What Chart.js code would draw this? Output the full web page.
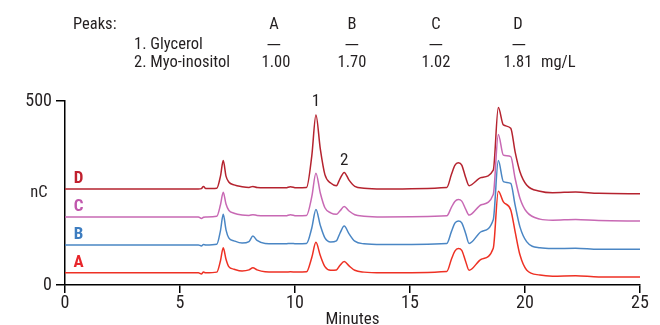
<!DOCTYPE html>
<html>
<head>
<meta charset="utf-8">
<script src="https://cdn.jsdelivr.net/npm/chart.js@4.4.0/dist/chart.umd.min.js"></script>
<style>
  html, body { margin: 0; padding: 0; background: #fff; }
  #wrap { position: relative; width: 660px; height: 325px; }
  #wrap canvas { position: absolute; left: 0; top: 0; }
  .hd {
    position: absolute;
    font-family: "Liberation Sans Narrow", "Roboto Condensed", "DejaVu Sans Condensed", Roboto, sans-serif;
    font-size: 16.5px;
    line-height: 1;
    color: #231f20;
    white-space: nowrap;
  }
  .col { width: 60px; text-align: center; }
  .dash { display: inline-block; transform: scaleX(1.4); }
</style>
</head>
<body>
<div id="wrap">
  <canvas id="chromChart" width="660" height="325"></canvas>
  <div id="header"></div>
</div>
<script>
// header table
const sampleNames = ['A', 'B', 'C', 'D'];
const analytes = ['1. Glycerol', '2. Myo-inositol'];
const glycerolConc = ['—', '—', '—', '—'];
const inositolConc = ['1.00', '1.70', '1.02', '1.81'];
const concUnit = 'mg/L';

// chromatograms (retention time in minutes, response in nC)
const minutes = [
  0, 5.8, 5.93, 6.02, 6.12, 6.6, 6.76, 6.88, 7.0, 7.12,
  7.35, 7.7, 8.0, 8.17, 8.35, 8.7, 9.6, 9.8, 10.05, 10.5,
  10.73, 10.91, 11.1, 11.3, 11.55, 11.8, 11.95, 12.14, 12.35, 12.6,
  13.0, 13.8, 16.6, 16.8, 16.95, 17.1, 17.25, 17.42, 17.57, 18.1,
  18.62, 18.84, 19.06, 19.38, 19.57, 19.78, 20.07, 20.65, 21.2, 22.2,
  23.2, 25
];
const traceA = [
  33, 33, 30, 35, 33, 35, 66, 101, 70, 50,
  43, 38, 41, 47, 41, 36, 35, 36, 35, 36,
  75, 116, 80, 50, 40, 41, 53, 64, 52, 40,
  35, 33, 37, 70, 92, 99, 94, 64, 40, 70,
  100, 255, 226, 204, 145, 82, 41, 27, 24, 25,
  22, 22
];
const traceB = [
  109, 109, 106, 110, 109, 111, 148, 192, 150, 128,
  120, 114, 118, 133, 121, 113, 112, 113, 112, 113,
  155, 205, 162, 128, 117, 120, 140, 160, 139, 119,
  112, 110, 113, 145, 168, 174, 169, 140, 113, 145,
  177, 338, 281, 276, 217, 158, 118, 101, 99, 100,
  97, 97
];
const traceC = [
  185, 185, 181, 184, 185, 187, 218, 252, 220, 203,
  195, 190, 189, 191, 189, 188, 188, 191, 188, 189,
  240, 304, 250, 210, 196, 192, 201, 213, 201, 191,
  187, 185, 188, 211, 227, 232, 228, 206, 190, 218,
  246, 409, 353, 349, 290, 236, 199, 179, 176, 178,
  175, 174
];
const traceD = [
  261, 261, 262, 268, 262, 263, 296, 338, 296, 280,
  272, 267, 265, 268, 265, 264, 264, 267, 264, 265,
  351, 462, 370, 300, 277, 270, 288, 306, 285, 268,
  263, 261, 265, 300, 325, 332, 326, 292, 270, 292,
  312, 482, 435, 426, 362, 308, 272, 255, 251, 253,
  249, 248
];
const traces = [traceA, traceB, traceC, traceD];

const peakLabels = ['1', '2'];
const peakTimes = [10.91, 12.14];

const xTicks = [0, 5, 10, 15, 20, 25];
const yTicks = [0, 500];

const FONT = '"Liberation Sans Narrow", "Roboto Condensed", "DejaVu Sans Condensed", Roboto, sans-serif';
const lineColors = ['#ee3124', '#4a86c4', '#c869b4', '#b5232f'];
const labelColors = ['#e8262b', '#3d7dc0', '#c057ac', '#c0202e'];
const textColor = '#231f20';

// header, built as html text
const header = document.getElementById('header');
function addText(txt, left, baseline, centred) {
  const el = document.createElement('div');
  el.className = 'hd' + (centred ? ' col' : '');
  el.textContent = txt;
  el.style.left = (centred ? left - 30 : left) + 'px';
  el.style.top = (baseline - 14) + 'px';
  header.appendChild(el);
  return el;
}
const colCentres = [274, 352, 436, 518];
addText('Peaks:', 73, 30);
addText(analytes[0], 134, 50);
addText(analytes[1], 134, 68);
sampleNames.forEach((s, i) => addText(s, colCentres[i], 30, true));
glycerolConc.forEach((s, i) => {
  const el = addText('', colCentres[i] + (i === 3 ? 1 : 0), 51.5, true);
  const sp = document.createElement('span');
  sp.className = 'dash';
  sp.textContent = s;
  el.appendChild(sp);
});
inositolConc.forEach((s, i) => addText(s, colCentres[i] + (i === 0 ? 2 : 0), 68, true));
addText(concUnit, 541, 68);

const annotations = {
  id: 'annotations',
  afterDatasetsDraw(chart) {
    const { ctx, scales: { x, y } } = chart;
    ctx.save();
    ctx.textAlign = 'center';
    ctx.textBaseline = 'middle';
    ctx.font = 'bold 17px ' + FONT;
    traces.forEach((tr, i) => {
      ctx.fillStyle = labelColors[i];
      ctx.fillText(sampleNames[i], x.getPixelForValue(0.59), y.getPixelForValue(tr[0]) - 10);
    });
    ctx.font = '17px ' + FONT;
    ctx.fillStyle = textColor;
    peakLabels.forEach((p, i) => {
      const idx = minutes.indexOf(peakTimes[i]);
      const gap = i === 0 ? 13 : 11.5;
      ctx.fillText(p, x.getPixelForValue(peakTimes[i]), y.getPixelForValue(traceD[idx]) - gap);
    });
    ctx.font = '16.5px ' + FONT;
    ctx.fillText('nC', x.left - 26, y.getPixelForValue(250));
    ctx.restore();
  }
};

const ctx = document.getElementById('chromChart').getContext('2d');
new Chart(ctx, {
  type: 'line',
  data: {
    datasets: traces.map((tr, i) => ({
      label: sampleNames[i],
      data: minutes.map((t, j) => ({ x: t, y: tr[j] })),
      borderColor: lineColors[i],
      borderWidth: 1.5,
      pointRadius: 0,
      fill: false,
      cubicInterpolationMode: 'monotone',
    })),
  },
  options: {
    responsive: false,
    animation: false,
    devicePixelRatio: 1,
    layout: { padding: { top: 101, right: 20, left: 0, bottom: 0 } },
    plugins: { legend: { display: false }, tooltip: { enabled: false } },
    scales: {
      x: {
        type: 'linear',
        min: 0,
        max: 25,
        afterBuildTicks: (scale) => { scale.ticks = xTicks.map(v => ({ value: v })); },
        afterFit: (scale) => { scale.height = 40; },
        ticks: { color: textColor, font: { family: FONT, size: 18 }, padding: 0, maxRotation: 0 },
        grid: { drawOnChartArea: false, tickLength: 8, color: '#000', lineWidth: 1.5 },
        border: { color: '#000', width: 1.5 },
        title: {
          display: true,
          text: 'Minutes',
          color: textColor,
          font: { family: FONT, size: 17, lineHeight: 1 },
          padding: { top: 0, bottom: -3 },
        },
      },
      y: {
        type: 'linear',
        min: 0,
        max: 500,
        afterBuildTicks: (scale) => { scale.ticks = yTicks.map(v => ({ value: v })); },
        afterFit: (scale) => { scale.width = 65; },
        ticks: { color: textColor, font: { family: FONT, size: 18 }, padding: 4 },
        grid: { drawOnChartArea: false, tickLength: 9, color: '#000', lineWidth: 1.5 },
        border: { color: '#000', width: 1.5 },
      },
    },
  },
  plugins: [annotations],
});
</script>
</body>
</html>
